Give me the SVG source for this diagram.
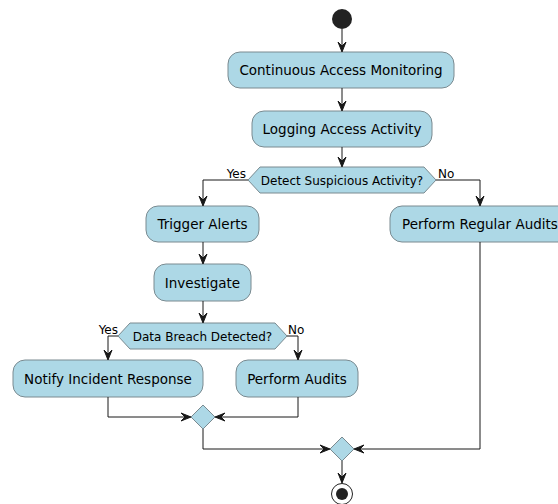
<svg xmlns="http://www.w3.org/2000/svg" width="558" height="504" viewBox="0 0 558 504">
<style>
.act{fill:#ADD8E6;stroke:#7a8a90;stroke-width:1}
.t{font-family:"DejaVu Sans",sans-serif;font-size:13.5px;fill:#000;text-anchor:middle}
.td{font-family:"DejaVu Sans",sans-serif;font-size:12px;fill:#000;text-anchor:middle}
.lbl{font-family:"DejaVu Sans",sans-serif;font-size:12px;fill:#000}
.ln{fill:none;stroke:#181818;stroke-width:1}
.ah{fill:#181818;stroke:#181818;stroke-width:1}
</style>
<rect width="558" height="504" fill="#fff"/>
<g id="start"><circle cx="342" cy="19" r="10" fill="#222"/></g>
<g id="n1"><rect class="act" x="228" y="52" width="226" height="36" rx="12"/><text class="t" x="341" y="75">Continuous Access Monitoring</text></g>
<g id="n2"><rect class="act" x="252" y="111" width="180" height="36" rx="12"/><text class="t" x="342" y="134">Logging Access Activity</text></g>
<g id="d1"><polygon class="act" points="248,180 260,167 424,167 436,180 424,193 260,193"/><text class="td" x="342" y="184.5">Detect Suspicious Activity?</text></g>
<g id="n3"><rect class="act" x="146" y="206" width="113" height="36" rx="12"/><text class="t" x="202.5" y="229">Trigger Alerts</text></g>
<g id="n4"><rect class="act" x="154" y="264" width="97" height="37" rx="12"/><text class="t" x="202.5" y="287.5">Investigate</text></g>
<g id="n5"><rect class="act" x="390" y="206" width="180" height="36" rx="12"/><text class="t" x="480" y="229">Perform Regular Audits</text></g>
<g id="d2"><polygon class="act" points="118,336 130,323 275,323 287,336 275,349 130,349"/><text class="td" x="202.5" y="340.5">Data Breach Detected?</text></g>
<g id="n6"><rect class="act" x="13" y="360" width="190" height="37" rx="12"/><text class="t" x="108" y="383.5">Notify Incident Response</text></g>
<g id="n7"><rect class="act" x="236" y="360" width="122" height="37" rx="12"/><text class="t" x="297" y="383.5">Perform Audits</text></g>
<g id="m1"><polygon class="act" points="203,405 215,417 203,429 191,417"/></g>
<g id="m2"><polygon class="act" points="342,437 354,449 342,461 330,449"/></g>
<g id="end"><circle cx="342" cy="494" r="10.5" fill="#fff" stroke="#222" stroke-width="1"/><circle cx="342" cy="494" r="6" fill="#222"/></g>
<g id="connectors">
<path class="ln" d="M342,29 V51"/><polygon class="ah" points="338,42 342,52 346,42 342,46"/>
<path class="ln" d="M342,88 V110"/><polygon class="ah" points="338,101 342,111 346,101 342,105"/>
<path class="ln" d="M342,147 V166"/><polygon class="ah" points="338,157 342,167 346,157 342,161"/>
<path class="ln" d="M248,180 H203 V205"/><polygon class="ah" points="199,196 203,206 207,196 203,200"/>
<text class="lbl" x="246" y="178" text-anchor="end">Yes</text>
<path class="ln" d="M436,180 H480 V205"/><polygon class="ah" points="476,196 480,206 484,196 480,200"/>
<text class="lbl" x="438" y="178">No</text>
<path class="ln" d="M203,242 V263"/><polygon class="ah" points="199,254 203,264 207,254 203,258"/>
<path class="ln" d="M203,301 V322"/><polygon class="ah" points="199,313 203,323 207,313 203,317"/>
<path class="ln" d="M118,336 H108 V359"/><polygon class="ah" points="104,350 108,360 112,350 108,354"/>
<text class="lbl" x="118" y="334" text-anchor="end">Yes</text>
<path class="ln" d="M287,336 H298 V359"/><polygon class="ah" points="294,350 298,360 302,350 298,354"/>
<text class="lbl" x="288" y="334">No</text>
<path class="ln" d="M108,397 V417 H190"/><polygon class="ah" points="181,413 191,417 181,421 185,417"/>
<path class="ln" d="M298,397 V417 H216"/><polygon class="ah" points="225,413 215,417 225,421 221,417"/>
<path class="ln" d="M203,429 V449 H329"/><polygon class="ah" points="320,445 330,449 320,453 324,449"/>
<path class="ln" d="M480,242 V449 H355"/><polygon class="ah" points="364,445 354,449 364,453 360,449"/>
<path class="ln" d="M342,461 V482"/><polygon class="ah" points="338,473 342,483 346,473 342,477"/>
</g>
</svg>
